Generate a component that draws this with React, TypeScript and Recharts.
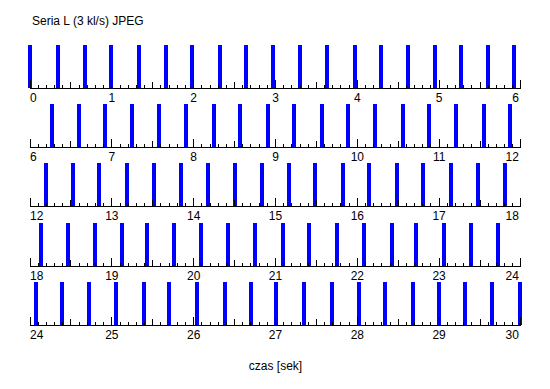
import React from 'react';
import { BarChart, Bar, XAxis, YAxis } from 'recharts';

const chartTitle = 'Seria L (3 kl/s) JPEG';
const axisTitle = 'czas [sek]';
const rowStarts = [0, 6, 12, 18, 24];
const rowSpan = 6;

const row0Times = [0, 0.339, 0.672, 0.99, 1.332, 1.658, 1.976, 2.318, 2.64, 2.966, 3.3, 3.626, 3.972, 4.289, 4.616, 4.946, 5.267, 5.597, 5.911];
const row1Times = [6.265, 6.599, 6.917, 7.243, 7.577, 7.903, 8.245, 8.563, 8.905, 9.218, 9.565, 9.883, 10.216, 10.555, 10.873, 11.203, 11.545, 11.863];
const row2Times = [12.196, 12.526, 12.848, 13.182, 13.512, 13.841, 14.171, 14.501, 14.835, 15.165, 15.483, 15.825, 16.147, 16.481, 16.803, 17.141, 17.471, 17.801];
const row3Times = [18.134, 18.464, 18.794, 19.124, 19.438, 19.768, 20.098, 20.428, 20.758, 21.092, 21.418, 21.76, 22.082, 22.424, 22.726, 23.068, 23.398, 23.728];
const row4Times = [24.061, 24.379, 24.709, 25.039, 25.381, 25.687, 26.029, 26.371, 26.689, 27.0, 27.345, 27.679, 28.009, 28.327, 28.669, 28.998, 29.316, 29.646, 29.988];
const rowTimes = [row0Times, row1Times, row2Times, row3Times, row4Times];
const frameLevel = 1;
const yMax = 1.372;

const FONT = '"Liberation Sans", Arial, sans-serif';
const PLOT_LEFT = 30;
const PLOT_RIGHT = 521;
const PLOT_TOP = 29;
const ROW_H = 59.2;
const CHART_W = 550;
const M_TOP = 10;
const AXIS_H = 22;

function makeTicks(start: number) {
  const t: number[] = [];
  for (let i = 0; i <= rowSpan * 10; i++) t.push(start + i / 10);
  return t;
}

const TickMark = (props: any) => {
  const { x, y, payload, rowStart } = props;
  const v = payload.value as number;
  const tenth = Math.round((v - rowStart) * 10);
  const isInt = tenth % 10 === 0;
  const len = isInt ? 8 : tenth % 5 === 0 ? 6 : 3;
  let anchor: any = 'middle';
  let dx = 0;
  if (tenth === 0) { anchor = 'start'; dx = 0; }
  else if (tenth === rowSpan * 10) { anchor = 'end'; dx = -2; }
  return (
    <g>
      <line x1={x} x2={x} y1={y} y2={y - len} stroke="#000" strokeWidth={1} shapeRendering="crispEdges" />
      {isInt && (
        <text x={x + dx} y={y + 14} textAnchor={anchor} fontSize={12} fontFamily={FONT} fill="#000">
          {Math.round(v)}
        </text>
      )}
    </g>
  );
};

const lineStyle = { stroke: '#000', strokeWidth: 1, shapeRendering: 'crispEdges' } as any;

export default function App() {
  return (
    <div style={{ position: 'absolute', left: 0, top: 0, width: 550, height: 389, background: '#fff' }}>
      <svg style={{ position: 'absolute', left: 0, top: 0 }} width={550} height={389}>
        <text x={32} y={25} fontSize={12} fontFamily={FONT} fill="#000">{chartTitle}</text>
        <text x={(PLOT_LEFT + PLOT_RIGHT) / 2} y={370} textAnchor="middle" fontSize={12} fontFamily={FONT} fill="#000">{axisTitle}</text>
      </svg>
      {rowStarts.map((s, k) => {
        const data = rowTimes[k].map((t) => ({ t, v: frameLevel }));
        return (
          <div key={k} style={{ position: 'absolute', left: 0, top: PLOT_TOP + k * ROW_H - M_TOP }}>
            <BarChart
              width={CHART_W}
              height={M_TOP + ROW_H + AXIS_H}
              data={data}
              margin={{ top: M_TOP, right: CHART_W - PLOT_RIGHT, bottom: 0, left: PLOT_LEFT }}
            >
              <XAxis
                xAxisId="b"
                dataKey="t"
                type="number"
                domain={[s, s + rowSpan]}
                ticks={makeTicks(s)}
                interval={0}
                tickLine={false}
                tickSize={0}
                tickMargin={0}
                height={AXIS_H}
                axisLine={lineStyle}
                tick={(p: any) => <TickMark {...p} rowStart={s} />}
              />
              {k === 0 && (
                <XAxis
                  xAxisId="top"
                  orientation="top"
                  type="number"
                  domain={[s, s + rowSpan]}
                  height={0}
                  tick={false}
                  tickLine={false}
                  axisLine={lineStyle}
                />
              )}
              <YAxis yAxisId="l" width={0} domain={[0, yMax]} tick={false} tickLine={false} axisLine={lineStyle} />
              <YAxis yAxisId="r" orientation="right" width={0} domain={[0, yMax]} tick={false} tickLine={false} axisLine={lineStyle} />
              <Bar xAxisId="b" yAxisId="l" dataKey="v" fill="#0000ff" barSize={4} shapeRendering="crispEdges" isAnimationActive={false} />
            </BarChart>
          </div>
        );
      })}
    </div>
  );
}
